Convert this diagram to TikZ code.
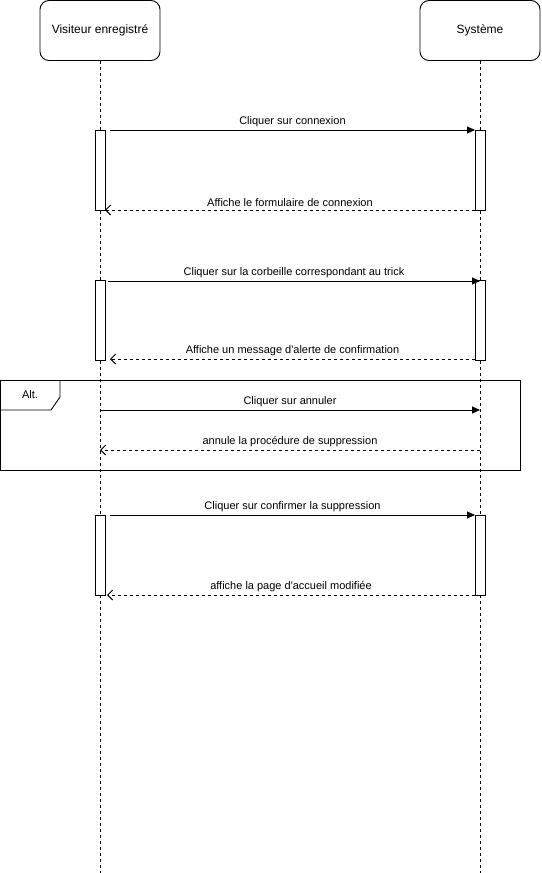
\documentclass[tikz,border=0pt]{standalone}
\usepackage{fontspec}
\setmainfont{Liberation Sans}[Ligatures=TeXOff]
\usetikzlibrary{arrows.meta}
\begin{document}
\begin{tikzpicture}[x=1pt,y=-1pt,line width=0.9pt,
  actor/.style={draw,rounded corners=9pt,minimum width=120pt,minimum height=60pt,
    inner sep=0pt,font=\fontsize{12}{14}\selectfont},
  actbar/.style={draw,fill=white,minimum width=10pt,inner sep=0pt},
  lifeline/.style={dash pattern=on 3pt off 3pt},
  call/.style={-{Triangle[length=8pt,width=7pt]}},
  reply/.style={dash pattern=on 3pt off 3pt,-{Straight Barb[length=5pt,width=10pt]}},
  msg/.style={font=\fontsize{11}{13}\selectfont,inner sep=0pt,above=2.5pt}]
\useasboundingbox (0,0) rectangle (541,873);

% participants
\node[actor] (vis) at (100,30.5) {Visiteur enregistré};
\node[actor] (sys) at (480,30.5) {Système};
\coordinate (visEnd) at (100,873);
\coordinate (sysEnd) at (480,873);
\draw[lifeline] (vis.south) -- (visEnd);
\draw[lifeline] (sys.south) -- (sysEnd);

% alternative frame
\draw (0.5,380) rectangle (520.5,470);
\draw (0.5,410) -- (51,410) -- (60,397) -- (60,380);
\node[font=\fontsize{11}{13}\selectfont] (alt) at (30,395) {Alt.};

% activation bars
\node[actbar,minimum height=80pt] (v1) at (100,170) {};
\node[actbar,minimum height=80pt] (s1) at (480,170) {};
\node[actbar,minimum height=80pt] (v2) at (100,320) {};
\node[actbar,minimum height=80pt] (s2) at (480,320) {};
\node[actbar,minimum height=80pt] (v3) at (100,555) {};
\node[actbar,minimum height=80pt] (s3) at (480,555) {};

% message end points
\coordinate (c1a) at (110,130);  \coordinate (c1b) at (475,130);
\coordinate (r1a) at (475,210);  \coordinate (r1b) at (105,210);
\coordinate (c2a) at (108,281);  \coordinate (c2b) at (480,281);
\coordinate (r2a) at (475,359);  \coordinate (r2b) at (110,359);
\coordinate (c3a) at (100,410);  \coordinate (c3b) at (480,410);
\coordinate (r3a) at (480,450);  \coordinate (r3b) at (100,450);
\coordinate (c4a) at (110,515);  \coordinate (c4b) at (475,515);
\coordinate (r4a) at (475,595);  \coordinate (r4b) at (107,595);

% messages
\draw[call]  (c1a) -- node[msg] {Cliquer sur connexion} (c1b);
\draw[reply] (r1a) -- node[msg] {Affiche le formulaire de connexion} (r1b);
\draw[call]  (c2a) -- node[msg] {Cliquer sur la corbeille correspondant au trick} (c2b);
\draw[reply] (r2a) -- node[msg] {Affiche un message d'alerte de confirmation} (r2b);
\draw[call]  (c3a) -- node[msg] {Cliquer sur annuler} (c3b);
\draw[reply] (r3a) -- node[msg] {annule la procédure de suppression} (r3b);
\draw[call]  (c4a) -- node[msg] {Cliquer sur confirmer la suppression} (c4b);
\draw[reply] (r4a) -- node[msg] {affiche la page d'accueil modifiée} (r4b);
\end{tikzpicture}
\end{document}
